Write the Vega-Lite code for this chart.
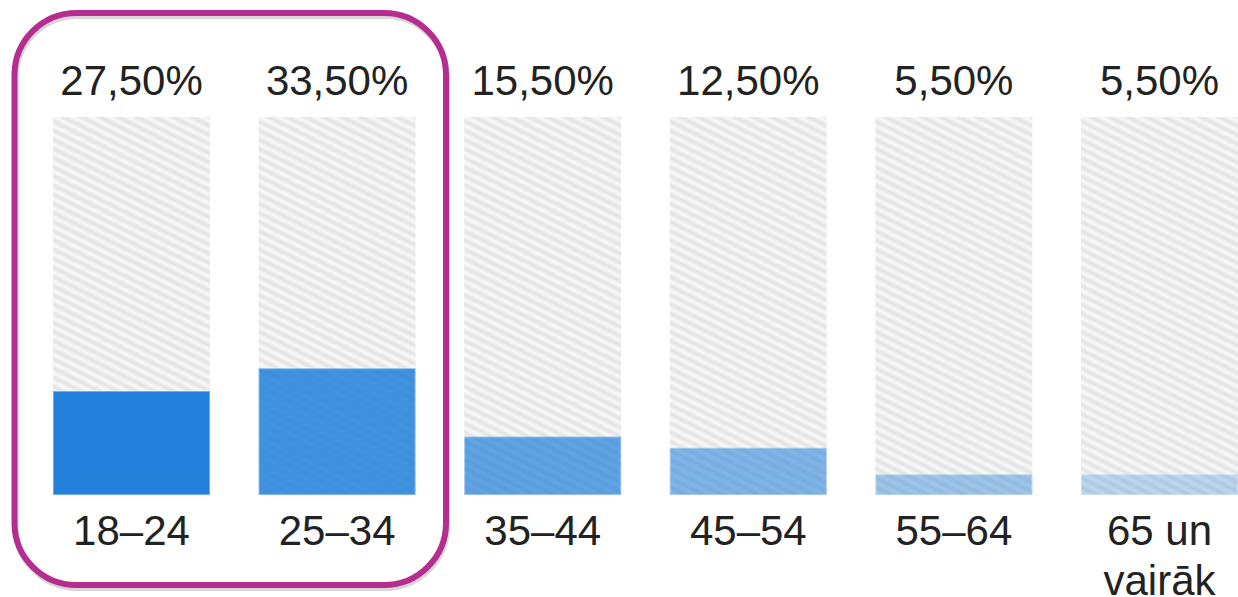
{
  "$schema": "https://vega.github.io/schema/vega-lite/v6.json",
  "width": 1185,
  "height": 378,
  "padding": {"left": 53, "top": 117, "right": 0, "bottom": 102},
  "autosize": {"type": "none"},
  "background": "#ffffff",
  "config": {
    "view": {"stroke": null},
    "locale": {"number": {"decimal": ",", "thousands": " ", "grouping": [3], "currency": ["", " €"]}}
  },
  "data": {
    "values": [
      {"cat": "18–24", "share": 0.275},
      {"cat": "25–34", "share": 0.335},
      {"cat": "35–44", "share": 0.155},
      {"cat": "45–54", "share": 0.125},
      {"cat": "55–64", "share": 0.055},
      {"cat": "65 un\nvairāk", "share": 0.055}
    ]
  },
  "encoding": {
    "x": {
      "field": "cat",
      "type": "nominal",
      "scale": {"domain": ["18–24", "25–34", "35–44", "45–54", "55–64", "65 un\nvairāk"], "paddingInner": 0.2364, "paddingOuter": 0},
      "axis": null
    }
  },
  "layer": [
    {
      "mark": {
        "type": "bar",
        "fill": {
          "gradient": "linear", "x1": 1, "y1": 0, "x2": 0.76, "y2": 1.16,
          "stops": [
            {"offset": 0.00, "color": "#e2e2e2"}, {"offset": 0.01, "color": "#f9f9f9"},
            {"offset": 0.02, "color": "#e2e2e2"}, {"offset": 0.03, "color": "#f9f9f9"},
            {"offset": 0.04, "color": "#e2e2e2"}, {"offset": 0.05, "color": "#f9f9f9"},
            {"offset": 0.06, "color": "#e2e2e2"}, {"offset": 0.07, "color": "#f9f9f9"},
            {"offset": 0.08, "color": "#e2e2e2"}, {"offset": 0.09, "color": "#f9f9f9"},
            {"offset": 0.10, "color": "#e2e2e2"}, {"offset": 0.11, "color": "#f9f9f9"},
            {"offset": 0.12, "color": "#e2e2e2"}, {"offset": 0.13, "color": "#f9f9f9"},
            {"offset": 0.14, "color": "#e2e2e2"}, {"offset": 0.15, "color": "#f9f9f9"},
            {"offset": 0.16, "color": "#e2e2e2"}, {"offset": 0.17, "color": "#f9f9f9"},
            {"offset": 0.18, "color": "#e2e2e2"}, {"offset": 0.19, "color": "#f9f9f9"},
            {"offset": 0.20, "color": "#e2e2e2"}, {"offset": 0.21, "color": "#f9f9f9"},
            {"offset": 0.22, "color": "#e2e2e2"}, {"offset": 0.23, "color": "#f9f9f9"},
            {"offset": 0.24, "color": "#e2e2e2"}, {"offset": 0.25, "color": "#f9f9f9"},
            {"offset": 0.26, "color": "#e2e2e2"}, {"offset": 0.27, "color": "#f9f9f9"},
            {"offset": 0.28, "color": "#e2e2e2"}, {"offset": 0.29, "color": "#f9f9f9"},
            {"offset": 0.30, "color": "#e2e2e2"}, {"offset": 0.31, "color": "#f9f9f9"},
            {"offset": 0.32, "color": "#e2e2e2"}, {"offset": 0.33, "color": "#f9f9f9"},
            {"offset": 0.34, "color": "#e2e2e2"}, {"offset": 0.35, "color": "#f9f9f9"},
            {"offset": 0.36, "color": "#e2e2e2"}, {"offset": 0.37, "color": "#f9f9f9"},
            {"offset": 0.38, "color": "#e2e2e2"}, {"offset": 0.39, "color": "#f9f9f9"},
            {"offset": 0.40, "color": "#e2e2e2"}, {"offset": 0.41, "color": "#f9f9f9"},
            {"offset": 0.42, "color": "#e2e2e2"}, {"offset": 0.43, "color": "#f9f9f9"},
            {"offset": 0.44, "color": "#e2e2e2"}, {"offset": 0.45, "color": "#f9f9f9"},
            {"offset": 0.46, "color": "#e2e2e2"}, {"offset": 0.47, "color": "#f9f9f9"},
            {"offset": 0.48, "color": "#e2e2e2"}, {"offset": 0.49, "color": "#f9f9f9"},
            {"offset": 0.50, "color": "#e2e2e2"}, {"offset": 0.51, "color": "#f9f9f9"},
            {"offset": 0.52, "color": "#e2e2e2"}, {"offset": 0.53, "color": "#f9f9f9"},
            {"offset": 0.54, "color": "#e2e2e2"}, {"offset": 0.55, "color": "#f9f9f9"},
            {"offset": 0.56, "color": "#e2e2e2"}, {"offset": 0.57, "color": "#f9f9f9"},
            {"offset": 0.58, "color": "#e2e2e2"}, {"offset": 0.59, "color": "#f9f9f9"},
            {"offset": 0.60, "color": "#e2e2e2"}, {"offset": 0.61, "color": "#f9f9f9"},
            {"offset": 0.62, "color": "#e2e2e2"}, {"offset": 0.63, "color": "#f9f9f9"},
            {"offset": 0.64, "color": "#e2e2e2"}, {"offset": 0.65, "color": "#f9f9f9"},
            {"offset": 0.66, "color": "#e2e2e2"}, {"offset": 0.67, "color": "#f9f9f9"},
            {"offset": 0.68, "color": "#e2e2e2"}, {"offset": 0.69, "color": "#f9f9f9"},
            {"offset": 0.70, "color": "#e2e2e2"}, {"offset": 0.71, "color": "#f9f9f9"},
            {"offset": 0.72, "color": "#e2e2e2"}, {"offset": 0.73, "color": "#f9f9f9"},
            {"offset": 0.74, "color": "#e2e2e2"}, {"offset": 0.75, "color": "#f9f9f9"},
            {"offset": 0.76, "color": "#e2e2e2"}, {"offset": 0.77, "color": "#f9f9f9"},
            {"offset": 0.78, "color": "#e2e2e2"}, {"offset": 0.79, "color": "#f9f9f9"},
            {"offset": 0.80, "color": "#e2e2e2"}, {"offset": 0.81, "color": "#f9f9f9"},
            {"offset": 0.82, "color": "#e2e2e2"}, {"offset": 0.83, "color": "#f9f9f9"},
            {"offset": 0.84, "color": "#e2e2e2"}, {"offset": 0.85, "color": "#f9f9f9"},
            {"offset": 0.86, "color": "#e2e2e2"}, {"offset": 0.87, "color": "#f9f9f9"},
            {"offset": 0.88, "color": "#e2e2e2"}, {"offset": 0.89, "color": "#f9f9f9"},
            {"offset": 0.90, "color": "#e2e2e2"}, {"offset": 0.91, "color": "#f9f9f9"},
            {"offset": 0.92, "color": "#e2e2e2"}, {"offset": 0.93, "color": "#f9f9f9"},
            {"offset": 0.94, "color": "#e2e2e2"}, {"offset": 0.95, "color": "#f9f9f9"},
            {"offset": 0.96, "color": "#e2e2e2"}, {"offset": 0.97, "color": "#f9f9f9"},
            {"offset": 0.98, "color": "#e2e2e2"}, {"offset": 0.99, "color": "#f9f9f9"},
            {"offset": 1.00, "color": "#e2e2e2"}
          ]
        }
      },
      "encoding": {
        "y": {"datum": 1, "type": "quantitative", "scale": {"domain": [0, 1]}, "axis": null},
        "y2": {"datum": 0}
      }
    },
    {
      "mark": {"type": "bar", "color": "#2282DB", "stroke": "#ffffff", "strokeOpacity": 0.35, "strokeWidth": 2},
      "encoding": {
        "y": {"field": "share", "type": "quantitative", "scale": {"domain": [0, 1]}, "axis": null},
        "opacity": {
          "field": "cat", "type": "ordinal", "legend": null,
          "scale": {"domain": ["18–24", "25–34", "35–44", "45–54", "55–64", "65 un\nvairāk"], "range": [1, 0.27]}
        }
      }
    },
    {
      "mark": {"type": "text", "font": "Liberation Sans, Arial, sans-serif", "fontSize": 42, "align": "center", "baseline": "alphabetic", "dy": -22, "color": "#222222"},
      "encoding": {
        "y": {"datum": 1, "type": "quantitative"},
        "text": {"field": "share", "type": "quantitative", "format": ".2%"}
      }
    },
    {
      "mark": {"type": "text", "font": "Liberation Sans, Arial, sans-serif", "fontSize": 42, "align": "center", "baseline": "alphabetic", "dy": 50, "lineBreak": "\n", "lineHeight": 50, "color": "#222222"},
      "encoding": {
        "y": {"datum": 0, "type": "quantitative"},
        "text": {"field": "cat", "type": "nominal"}
      }
    },
    {
      "data": {"values": [{"from": "18–24", "to": "25–34"}]},
      "mark": {"type": "rect", "filled": false, "stroke": "#7a7a7a", "strokeOpacity": 0.3, "strokeWidth": 6, "cornerRadius": 62, "xOffset": -37.5, "x2Offset": 109.9, "yOffset": 3, "y2Offset": 3},
      "encoding": {
        "x": {"field": "from", "type": "nominal", "bandPosition": 0},
        "x2": {"field": "to"},
        "y": {"datum": 1.275, "type": "quantitative"},
        "y2": {"datum": -0.238}
      }
    },
    {
      "data": {"values": [{"from": "18–24", "to": "25–34"}]},
      "mark": {"type": "rect", "filled": false, "stroke": "#B52E8F", "strokeWidth": 6, "cornerRadius": 62, "xOffset": -38.5, "x2Offset": 108.9},
      "encoding": {
        "x": {"field": "from", "type": "nominal", "bandPosition": 0},
        "x2": {"field": "to"},
        "y": {"datum": 1.275, "type": "quantitative"},
        "y2": {"datum": -0.238}
      }
    }
  ]
}
